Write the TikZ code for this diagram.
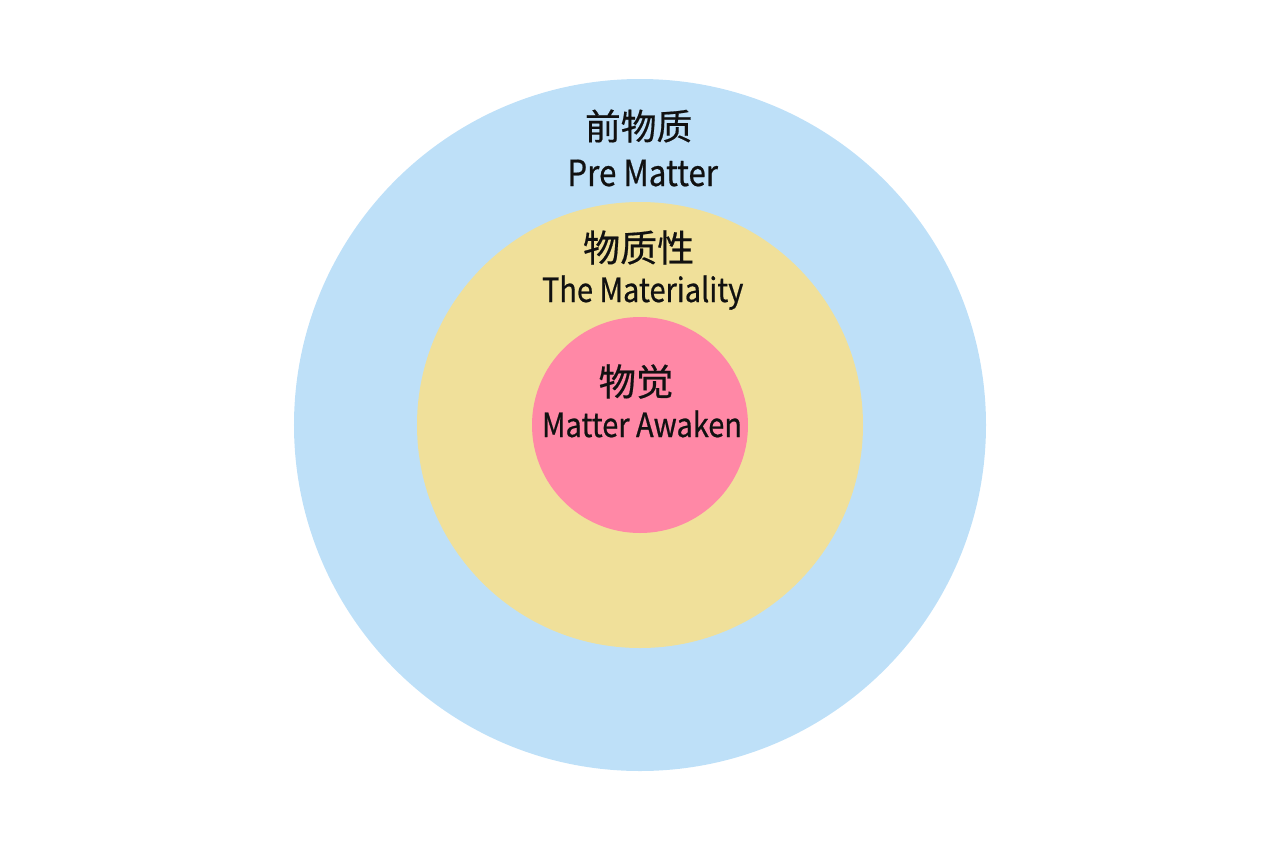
\documentclass[tikz,border=0pt]{standalone}
\usepackage{fontspec}
\setmainfont{Noto Sans CJK SC}
\newfontfamily\zhfont[FakeBold=0.5]{Noto Sans CJK SC}
\newfontfamily\enfont[FakeStretch=0.87, FakeBold=0.6]{Noto Sans CJK SC}
\usepackage{tikz}
\usetikzlibrary{positioning}
\definecolor{outerblue}{RGB}{190,224,248}
\definecolor{midyellow}{RGB}{240,224,154}
\definecolor{innerpink}{RGB}{255,136,166}
\definecolor{inkgrey}{RGB}{17,17,17}

\begin{document}
\begin{tikzpicture}[disc/.style={circle, inner sep=0pt, minimum size=#1},
	zh/.style={font=\zhfont\fontsize{#1}{30pt}\selectfont, text=inkgrey, inner sep=0pt},
	en/.style={font=\enfont\fontsize{#1}{29pt}\selectfont, text=inkgrey, inner sep=0pt, anchor=base}]
	\useasboundingbox (-480pt,-319.5pt) rectangle (480pt,318.75pt);

	\node (outer) [disc=519pt, fill=outerblue] at (0pt,0pt) {};
	\node (middle) [disc=334.5pt, fill=midyellow] at (outer.center) {};
	\node (inner) [disc=162pt, fill=innerpink] at (outer.center) {};

	\node (prezh) [zh=26.8pt] at (-1pt,224.25pt) {前物质};
	\node (preen) [en=27pt] at (2pt,179.25pt) {Pre Matter};
	\node (matzh) [zh=27.8pt] at (-1pt,133.1pt) {物质性};
	\node (maten) [en=25pt] at (2pt,92.25pt) {The Materiality};
	\node (awkzh) [zh=28pt] at (-3pt,32.6pt) {物觉};
	\node (awken) [en=25pt] at (1.5pt,-9pt) {Matter Awaken};
\end{tikzpicture}
\end{document}
